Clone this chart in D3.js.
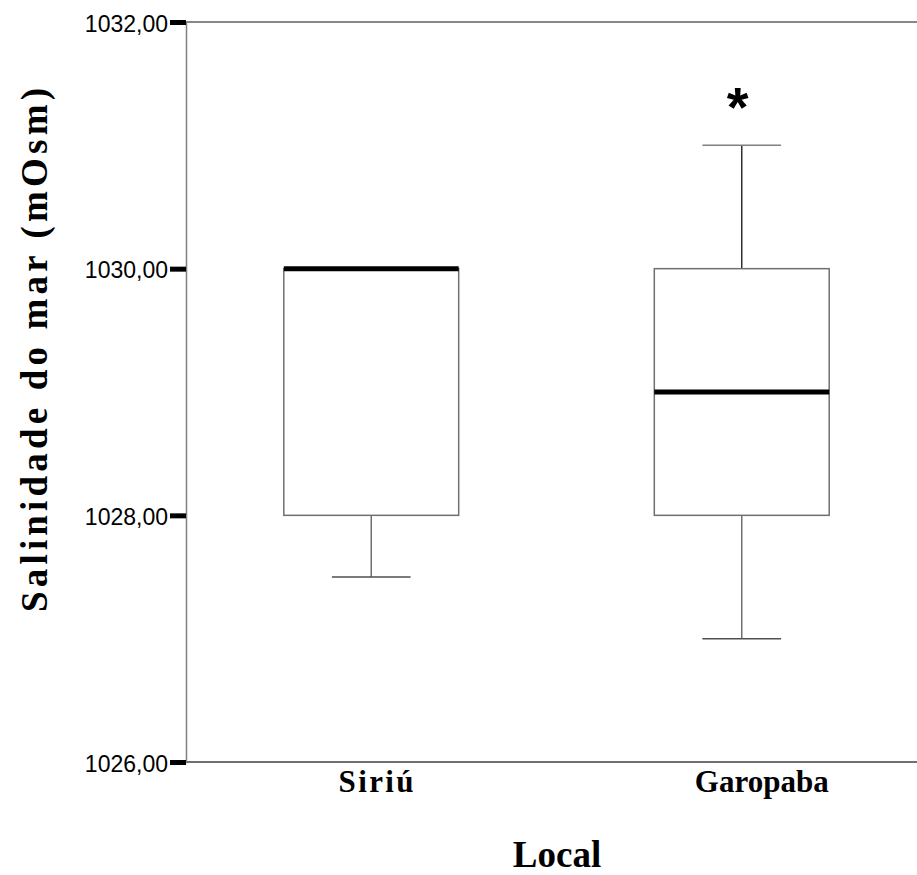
<!DOCTYPE html>
<html>
<head>
<meta charset="utf-8">
<script src="https://cdn.jsdelivr.net/npm/d3@7"></script>
<style>
  body { margin: 0; background: #fff; }
</style>
</head>
<body>
<div id="chart"></div>
<script>
// box plot values
const locais = ["Siriú", "Garopaba"];
const q1 = [1028, 1028];
const medianas = [1030, 1029];
const q3 = [1030, 1030];
const whiskerLow = [1027.5, 1027];
const whiskerHigh = [1030, 1031];
const outliers = [[], [1031.4]];
const yTicks = [1026, 1028, 1030, 1032];

const width = 917, height = 875;
const margin = {top: 22, right: -10, bottom: 113, left: 186};

const svg = d3.select("#chart")
  .append("svg")
    .attr("width", width)
    .attr("height", height);

const x = d3.scaleBand()
  .domain(locais)
  .range([margin.left, width - margin.right]);

const y = d3.scaleLinear()
  .domain([1026, 1032])
  .range([height - margin.bottom, margin.top]);

const fmt = d => d.toFixed(2).replace(".", ",");

// frame lines (top + bottom)
svg.append("line")
  .attr("x1", margin.left).attr("x2", width)
  .attr("y1", y(1032)).attr("y2", y(1032))
  .attr("stroke", "#606060").attr("stroke-width", 1.5);
svg.append("line")
  .attr("x1", margin.left).attr("x2", width)
  .attr("y1", y(1026)).attr("y2", y(1026))
  .attr("stroke", "#404040").attr("stroke-width", 1.5);

// y axis
const yAxis = svg.append("g")
  .attr("transform", `translate(${margin.left},0)`)
  .call(d3.axisLeft(y).tickValues(yTicks).tickFormat(fmt).tickSize(16).tickPadding(2));
yAxis.select(".domain").attr("stroke", "#808080").attr("stroke-width", 1.5);
yAxis.selectAll(".tick line").attr("stroke", "#000").attr("stroke-width", 5);
yAxis.selectAll(".tick text")
  .attr("font-family", "Liberation Sans, Arial, sans-serif")
  .attr("font-size", 23)
  .attr("fill", "#000")
  .attr("dy", "0.4em");

// x category labels
svg.append("g")
  .selectAll("text")
  .data(locais)
  .join("text")
    .attr("x", (d, i) => x(d) + x.bandwidth() / 2 + (i === 0 ? 6 : 20))
    .attr("y", 792)
    .attr("text-anchor", "middle")
    .attr("font-family", "Liberation Serif, Times New Roman, serif")
    .attr("font-weight", "bold")
    .attr("font-size", 31)
    .attr("letter-spacing", (d, i) => i === 0 ? 2.4 : 0)
    .text(d => d);

// boxes
const bw = x.bandwidth() * 0.472;
const capW = bw * 0.45;
const g = svg.append("g")
  .selectAll("g")
  .data(locais)
  .join("g")
    .attr("transform", d => `translate(${x(d) + x.bandwidth() / 2},0)`);

g.append("line")
  .attr("y1", (d, i) => y(q1[i])).attr("y2", (d, i) => y(whiskerLow[i]))
  .attr("stroke", "#707070").attr("stroke-width", 1.5);
g.append("line")
  .attr("y1", (d, i) => y(q3[i])).attr("y2", (d, i) => y(whiskerHigh[i]))
  .attr("stroke", "#303030").attr("stroke-width", 1.5);
g.append("line")
  .attr("x1", -capW / 2).attr("x2", capW / 2)
  .attr("y1", (d, i) => y(whiskerLow[i])).attr("y2", (d, i) => y(whiskerLow[i]))
  .attr("stroke", "#505050").attr("stroke-width", 1.5);
g.filter((d, i) => whiskerHigh[i] > q3[i]).append("line")
  .attr("x1", -capW / 2).attr("x2", capW / 2)
  .attr("y1", (d) => y(whiskerHigh[locais.indexOf(d)])).attr("y2", (d) => y(whiskerHigh[locais.indexOf(d)]))
  .attr("stroke", "#808080").attr("stroke-width", 1.5);

g.append("rect")
  .attr("x", -bw / 2).attr("width", bw)
  .attr("y", (d, i) => y(q3[i]))
  .attr("height", (d, i) => y(q1[i]) - y(q3[i]))
  .attr("fill", "#fff")
  .attr("stroke", "#707070").attr("stroke-width", 1.5);

g.append("line")
  .attr("x1", -bw / 2).attr("x2", bw / 2)
  .attr("y1", (d, i) => y(medianas[i])).attr("y2", (d, i) => y(medianas[i]))
  .attr("stroke", "#000").attr("stroke-width", 5);

// outliers (asterisk)
g.each(function(d, i) {
  d3.select(this).selectAll("text.out")
    .data(outliers[i])
    .join("text")
      .attr("class", "out")
      .attr("x", -4)
      .attr("y", v => y(v) + 30)
      .attr("text-anchor", "middle")
      .attr("font-family", "Liberation Sans, Arial, sans-serif")
      .attr("font-weight", "bold")
      .attr("font-size", 56)
      .text("*");
});

// axis titles
svg.append("text")
  .attr("transform", `translate(47,350) rotate(-90)`)
  .attr("text-anchor", "middle")
  .attr("font-family", "Liberation Serif, Times New Roman, serif")
  .attr("font-weight", "bold")
  .attr("font-size", 37)
  .attr("textLength", 524)
  .attr("lengthAdjust", "spacing")
  .text("Salinidade do mar (mOsm)");

svg.append("text")
  .attr("x", 557)
  .attr("y", 867)
  .attr("text-anchor", "middle")
  .attr("font-family", "Liberation Serif, Times New Roman, serif")
  .attr("font-weight", "bold")
  .attr("font-size", 37)
  .text("Local");
</script>
</body>
</html>
